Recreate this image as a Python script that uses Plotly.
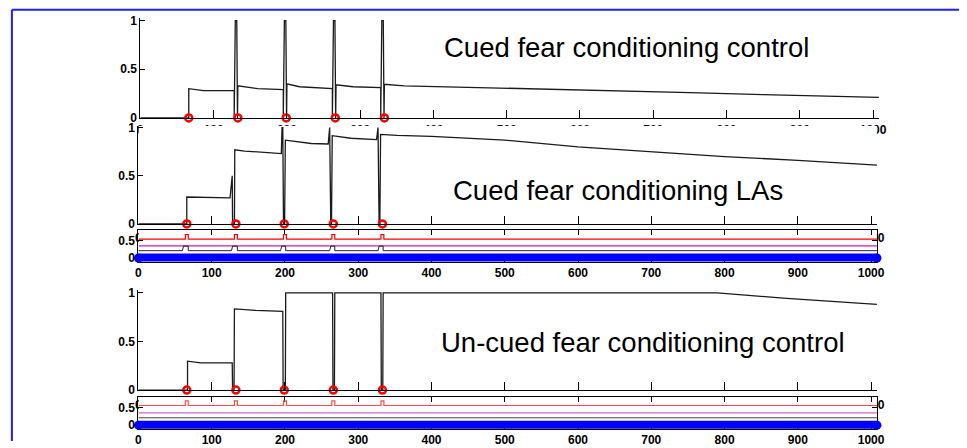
import plotly.graph_objects as go

W, H = 967, 448
T_END = 1008

# ---- stimulus (CS) times, marked with red rings on every main panel ----
stim_t = [66, 133, 199, 266, 333]

# ---- main traces: vertices (time, level) ----
ctrl_t = [0, 66, 66, 86, 128, 128, 129.5, 131.5, 132.5, 133, 160, 195, 195, 196.5, 198.5, 199.5,
          200, 217, 262, 262, 263.5, 265.5, 266.5, 267, 290, 328, 328, 329.5, 331.5, 332.5,
          333, 360, 450, 550, 650, 750, 850, 950, 1008]
ctrl_v = [0, 0, 0.30, 0.28, 0.28, 0, 1, 1, 0, 0.33, 0.30, 0.29, 0, 1, 1, 0,
          0.35, 0.32, 0.30, 0, 1, 1, 0, 0.34, 0.32, 0.31, 0, 1, 1, 0,
          0.345, 0.33, 0.315, 0.30, 0.28, 0.26, 0.24, 0.225, 0.21]

las_t = [0, 66, 66, 125, 128, 128.5, 131, 131.5, 145, 178, 195, 196, 197, 198, 199.5, 200.5,
         236, 259, 260, 261, 262.5, 263.5, 264.5, 290, 325, 326, 327, 328.5, 329.5, 330.5,
         353, 400, 500, 600, 700, 800, 900, 1008]
las_v = [0, 0, 0.28, 0.27, 0.50, 0, 0, 0.77, 0.757, 0.74, 0.73, 1, 1, 0, 0, 0.87,
         0.835, 0.83, 1, 1, 0, 0, 0.916, 0.89, 0.876, 1, 1, 0, 0, 0.93,
         0.92, 0.91, 0.87, 0.80, 0.75, 0.70, 0.66, 0.61]

uncued_t = [0, 67, 67, 85, 128, 128.5, 130.5, 131, 160, 197, 197.5, 200.5, 201, 265,
            265.5, 267.5, 268, 331, 331.5, 333.5, 334, 790, 880, 1008]
uncued_v = [0, 0, 0.297, 0.28, 0.28, 0, 0, 0.834, 0.82, 0.81, 0, 0, 1, 1,
            0, 0, 1, 1, 0, 0, 1, 1, 0.945, 0.88]

# ---- small input panels: pulse on/off times and levels ----
red_on = [64, 131, 198, 264, 331]
red_off = [68, 135, 202, 268, 335]
blk_on = [60, 127, 194, 261, 327]
blk_off = [68, 135, 201, 268, 334]

las_red = (0.54, 0.67)
las_mag = 0.35
las_blk = (0.21, 0.34)
unc_red = (0.56, 0.69)
unc_mag = 0.35
unc_blk = 0.21

x_ticks = list(range(0, 1001, 100))
main_yticks = [0, 0.5, 1]
main_ylabels = ["0", "0.5", "1"]
small_yticks = [0, 0.5]
small_ylabels = ["0", "0.5"]

titles = ["Cued fear conditioning control", "Cued fear conditioning LAs",
          "Un-cued fear conditioning control"]


def pulses(on, off, base, peak, rise=0.0):
    xs, ys = [0], [base]
    for a, b in zip(on, off):
        xs += [a, a + rise, b, b]
        ys += [base, peak, peak, base]
    xs.append(T_END)
    ys.append(base)
    return xs, ys


# panel geometry in pixels: left, right, y of zero, px per unit, value range
geom = {
    1: dict(l=139, r=886, y0=116, s=100, lo=0, top=1.03, small=False, standoff=1),
    2: dict(l=137, r=884, y0=225, s=99, lo=0, top=1.02, small=False, standoff=3),
    3: dict(l=137, r=884, y0=260, s=36, lo=-0.1, top=0.8, small=True, standoff=0),
    4: dict(l=137, r=884, y0=395.7, s=100, lo=0, top=1.03, small=False, standoff=3),
    5: dict(l=137, r=884, y0=431.7, s=36, lo=-0.1, top=0.8, small=True, standoff=0),
}

fig = go.Figure()
FONT = "Liberation Sans, Arial, sans-serif"
tickfont = dict(family=FONT, size=12, color="black", weight="bold")


def ax_names(i):
    return ("x" if i == 1 else f"x{i}"), ("y" if i == 1 else f"y{i}")


def add_line(i, xs, ys, color, width=1.2):
    xa, ya = ax_names(i)
    fig.add_trace(go.Scatter(x=xs, y=ys, mode="lines", xaxis=xa, yaxis=ya,
                             line=dict(color=color, width=width), showlegend=False,
                             hoverinfo="skip"))


def add_stim(i):
    xa, ya = ax_names(i)
    fig.add_trace(go.Scatter(x=stim_t, y=[0] * len(stim_t), mode="markers", xaxis=xa, yaxis=ya,
                             marker=dict(symbol="circle-open", size=7, color="red",
                                         line=dict(width=2.5, color="red")),
                             cliponaxis=False, showlegend=False, hoverinfo="skip"))


def add_blue(i):
    xa, ya = ax_names(i)
    fig.add_trace(go.Scatter(x=[0, T_END], y=[0, 0], mode="lines+markers", xaxis=xa, yaxis=ya,
                             line=dict(color="#0000ff", width=9),
                             marker=dict(size=9, color="#0000ff"),
                             cliponaxis=False, showlegend=False, hoverinfo="skip"))


# main panels
add_line(1, ctrl_t, ctrl_v, "#1a1a1a", 1.3)
add_stim(1)
add_line(2, las_t, las_v, "#1a1a1a", 1.3)
add_stim(2)
add_line(4, uncued_t, uncued_v, "#1a1a1a", 1.3)
add_stim(4)

# input panel under LAs
rx, ry = pulses(red_on, red_off, *las_red)
add_line(3, rx, ry, "#ff0000", 1.2)
add_line(3, [0, T_END], [las_mag, las_mag], "#c020c0", 1.2)
bx, by = pulses(blk_on, blk_off, *las_blk, rise=1.5)
add_line(3, bx, by, "#222222", 1.0)
add_blue(3)

# input panel under un-cued control
rx, ry = pulses(red_on, red_off, *unc_red)
add_line(5, rx, ry, "#ff4a4a", 1.2)
add_line(5, [0, T_END], [unc_mag, unc_mag], "#cc66cc", 1.2)
add_line(5, [0, T_END], [unc_blk, unc_blk], "#444444", 1.0)
add_blue(5)

layout = dict(width=W, height=H, margin=dict(l=0, r=0, t=0, b=0),
              paper_bgcolor="white", plot_bgcolor="white", showlegend=False)
shapes = []
for i, g in geom.items():
    xa, ya = ax_names(i)
    xkey = "xaxis" if i == 1 else f"xaxis{i}"
    ykey = "yaxis" if i == 1 else f"yaxis{i}"
    top_px = g["y0"] - g["top"] * g["s"]
    bot_px = g["y0"] - g["lo"] * g["s"]
    small = g["small"]
    layout[xkey] = dict(domain=[g["l"] / W, g["r"] / W], range=[0, T_END], anchor=ya,
                        tickvals=x_ticks, ticktext=[str(v) for v in x_ticks],
                        ticks="inside", ticklen=5 if small else 8, tickcolor="black",
                        showline=True, linecolor="black", linewidth=1,
                        mirror="ticks" if small else False, showgrid=False, zeroline=False,
                        tickfont=tickfont, ticklabelstandoff=g["standoff"],
                        layer="below traces" if small else "above traces",
                        fixedrange=True)
    layout[ykey] = dict(domain=[1 - bot_px / H, 1 - top_px / H], range=[g["lo"], g["top"]],
                        anchor=xa,
                        tickvals=small_yticks if small else main_yticks,
                        ticktext=small_ylabels if small else main_ylabels,
                        ticks="inside", ticklen=5, tickcolor="black",
                        showline=True, linecolor="black", linewidth=1,
                        mirror="ticks" if small else False, showgrid=False, zeroline=False,
                        tickfont=tickfont, layer="below traces" if small else "above traces",
                        fixedrange=True)
    if i > 1:
        # opaque axes background, so lower panels hide what lies beneath them
        shapes.append(dict(type="rect", xref=xa, yref=ya, x0=0, x1=T_END, y0=g["lo"],
                           y1=g["top"], fillcolor="white", line=dict(width=0), layer="below"))

# figure frame
shapes.append(dict(type="line", xref="paper", yref="paper", x0=9 / W, x1=1, y0=1 - 5 / H,
                   y1=1 - 5 / H, line=dict(color="#1f1fff", width=2), layer="above"))
shapes.append(dict(type="line", xref="paper", yref="paper", x0=9 / W, x1=9 / W, y0=0,
                   y1=1 - 5 / H, line=dict(color="#1f1fff", width=2), layer="above"))
layout["shapes"] = shapes

title_pos = [(444, 44), (453, 191), (441, 347)]
layout["annotations"] = [
    dict(text=t, x=px / W, y=1 - py / H, xref="paper", yref="paper", xanchor="left",
         yanchor="middle", showarrow=False, font=dict(family=FONT, size=27.5, color="black"))
    for t, (px, py) in zip(titles, title_pos)
]

fig.update_layout(**layout)
fig.write_html("out.html")
